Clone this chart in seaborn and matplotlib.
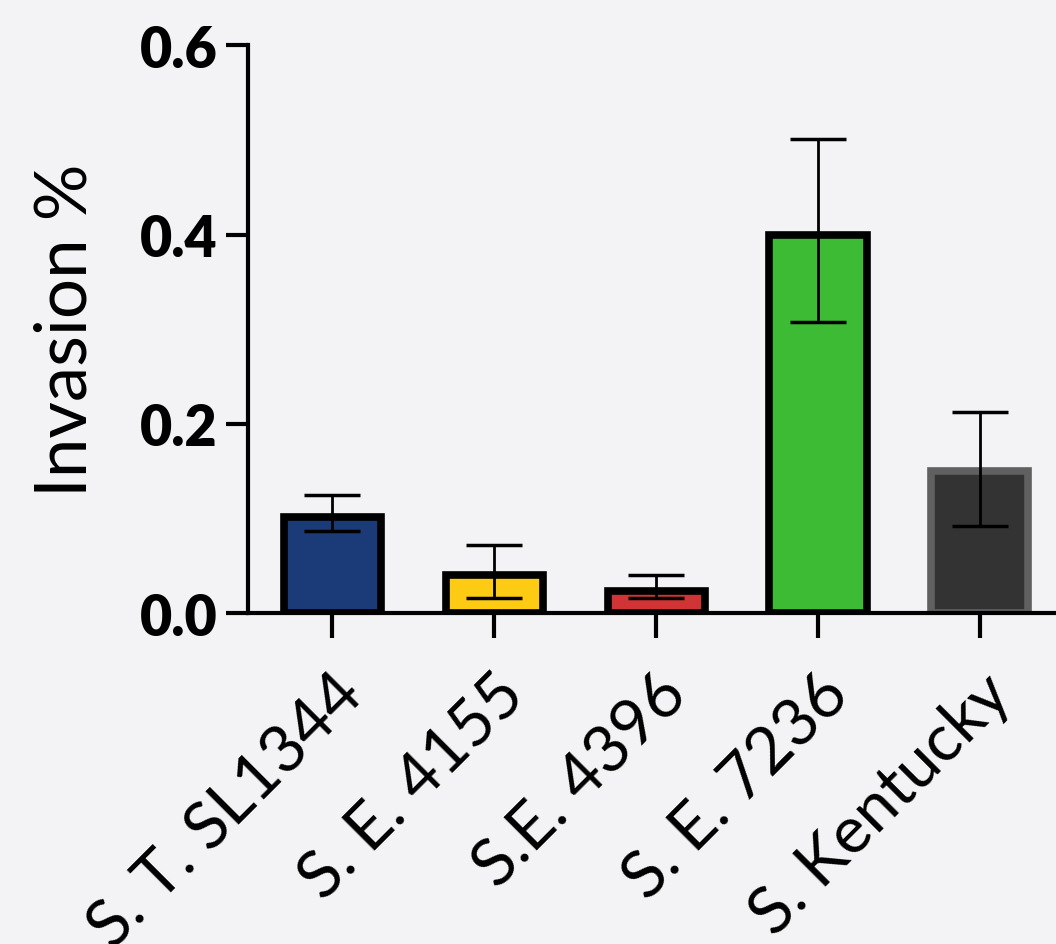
import numpy as np
import pandas as pd
import matplotlib
matplotlib.use("Agg")
import matplotlib.pyplot as plt
import seaborn as sns

# --- data ---
strains = ["S. T. SL1344", "S. E. 4155", "S.E. 4396", "S. E. 7236", "S. Kentucky"]
invasion = [0.102, 0.040, 0.024, 0.400, 0.150]
err_low = [0.087, 0.016, 0.016, 0.308, 0.092]
err_high = [0.125, 0.072, 0.040, 0.501, 0.213]
colors = ["#1b3a78", "#fdcb14", "#d03434", "#3dbb35", "#333333"]
edges = ["black", "black", "black", "black", "#606060"]

df = pd.DataFrame({"strain": strains, "invasion": invasion})

sns.set_theme(style="ticks")
plt.rcParams["font.family"] = ["Lato", "DejaVu Sans"]
plt.rcParams["text.color"] = "black"
plt.rcParams["axes.labelcolor"] = "black"
plt.rcParams["xtick.color"] = "black"
plt.rcParams["ytick.color"] = "black"
plt.rcParams["axes.edgecolor"] = "black"

bg = "#f3f3f5"
fig = plt.figure(figsize=(10.56, 9.45), dpi=100, facecolor=bg)
ax = fig.add_axes([0.235, 0.350, 0.765, 0.601])
ax.set_facecolor(bg)

sns.barplot(data=df, x="strain", y="invasion", hue="strain", palette=colors,
            order=strains, hue_order=strains, legend=False, width=0.6,
            errorbar=None, saturation=1, ax=ax)

for patch, ec in zip(ax.patches, edges):
    patch.set_edgecolor(ec)
    patch.set_linewidth(5.5)

x = np.arange(len(strains))
yerr = [np.array(invasion) - np.array(err_low), np.array(err_high) - np.array(invasion)]
ax.errorbar(x, invasion, yerr=yerr, fmt="none", ecolor="black",
            elinewidth=2, capsize=20, capthick=2.5, zorder=5)

ax.set_xlim(-0.52, 4.47)
ax.set_ylim(0, 0.6)
ax.set_yticks([0.0, 0.2, 0.4, 0.6])
ax.set_yticklabels(["0.0", "0.2", "0.4", "0.6"], fontsize=40, fontweight="heavy")
ax.set_xticks(x)
ax.set_xticklabels(strains, fontsize=47, rotation=45, ha="right",
                   rotation_mode="anchor")
ax.set_xlabel("")
ax.set_ylabel("Invasion %", fontsize=51, labelpad=30)

sns.despine(ax=ax, top=True, right=True)
ax.spines["left"].set_linewidth(3)
ax.spines["bottom"].set_linewidth(3)
ax.tick_params(axis="y", length=16, width=3, pad=6)
ax.tick_params(axis="x", length=18, width=3, pad=18)

fig.savefig("out.png", dpi=100, facecolor=bg)
